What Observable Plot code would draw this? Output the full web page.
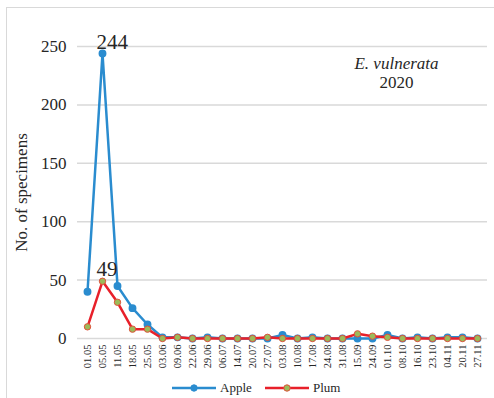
<!DOCTYPE html>
<html><head><meta charset="utf-8">
<script src="https://cdn.jsdelivr.net/npm/d3@7"></script>
<script src="https://cdn.jsdelivr.net/npm/@observablehq/plot@0.6"></script>
<style>
body{margin:0;background:#fff;font-family:"Liberation Serif",serif;}
svg, svg text{font-family:"Liberation Serif",serif !important;}
#wrap{position:relative;width:494px;height:398px;overflow:hidden}
#frame{position:absolute;left:6px;top:7px;width:600px;height:500px;border-left:1.5px solid #d9d9d9;border-top:1.5px solid #d9d9d9;pointer-events:none}
#legend{position:absolute;left:0;top:378px;width:494px;height:20px;font-size:13px;color:#262626;font-family:"Liberation Serif",serif}
.item{position:absolute;top:0;height:20px;display:flex;align-items:center}
.item span{margin-left:4px}
</style></head><body>
<div id="wrap"><div id="chart"></div><div id="frame"></div><div id="legend"></div></div>
<script>
const dates = ["01.05","05.05","11.05","18.05","25.05","03.06","09.06","22.06","29.06","06.07","14.07","20.07","27.07","03.08","10.08","17.08","24.08","31.08","15.09","24.09","01.10","08.10","16.10","23.10","04.11","20.11","27.11"];
const apple = [40,244,45,26,12,1,1,0,1,0,0,0,0,3,0,1,0,0,0,0,3,0,1,0,1,1,0];
const plum  = [10,49,31,8,8,0,1,0,0,0,0,0,1,0,0,0,0,0,4,2,1,0,0,0,0,0,0];
const yTicks = [0,50,100,150,200,250];
const seriesNames = ["Apple","Plum"];

const appleColor = "#2a8ccf";
const plumColor = "#e8202a";
const plumFill = "#9bbb59";
const ff = "Liberation Serif";

const appleData = dates.map((d,i)=>({date:d, value:apple[i]}));
const plumData = dates.map((d,i)=>({date:d, value:plum[i]}));
const labelData = [
  {date:dates[1], value:apple[1]},
  {date:dates[1], value:plum[1]}
];

const chart = Plot.plot({
  width: 494,
  height: 376,
  marginLeft: 77,
  marginRight: 7,
  marginTop: 46,
  marginBottom: 38,
  style: {fontFamily:"Liberation Serif", color:"#262626", background:"transparent"},
  x: {type:"point", domain: dates, padding:0.5},
  y: {domain:[0,250]},
  marks: [
    Plot.ruleY(yTicks, {stroke:"#d9d9d9", strokeWidth:1.5}),
    Plot.axisY({ticks: yTicks, tickSize:0, tickPadding:11, fontSize:17, fontFamily:ff, label:null}),
    Plot.axisX({tickRotate:-90, tickSize:0, tickPadding:6, fontSize:10.5, fontFamily:ff, label:null}),
    Plot.text(["No. of specimens"], {frameAnchor:"left", rotate:-90, dx:-56, fontSize:17, fontFamily:ff, textAnchor:"middle", lineAnchor:"middle", fill:"#262626"}),
    Plot.line(appleData, {x:"date", y:"value", stroke:appleColor, strokeWidth:2.5}),
    Plot.dot(appleData, {x:"date", y:"value", r:3.2, fill:appleColor, stroke:appleColor}),
    Plot.line(plumData, {x:"date", y:"value", stroke:plumColor, strokeWidth:2.5}),
    Plot.dot(plumData, {x:"date", y:"value", r:3.2, fill:plumFill, stroke:"#e0503a", strokeWidth:1}),
    Plot.text(labelData, {x:"date", y:"value", text:d=>String(d.value), textAnchor:"start", lineAnchor:"bottom", dx:-6, dy:-5, fontSize:21, fontFamily:ff, fill:"#262626"}),
    Plot.text(["E. vulnerata"], {frameAnchor:"top-right", dx:-91, dy:10, textAnchor:"middle", lineAnchor:"top", fontSize:17, fontFamily:ff, fontStyle:"italic", fill:"#262626"}),
    Plot.text(["2020"], {frameAnchor:"top-right", dx:-91, dy:29, textAnchor:"middle", lineAnchor:"top", fontSize:17, fontFamily:ff, fill:"#262626"})
  ]
});
document.getElementById("chart").appendChild(chart);

// legend
const legend = document.getElementById("legend");
const legendItems = [
  {name:seriesNames[0], stroke:appleColor, fill:appleColor, mstroke:appleColor, left:172},
  {name:seriesNames[1], stroke:plumColor, fill:plumFill, mstroke:"#e0503a", left:265}
];
for (const it of legendItems) {
  const div = document.createElement("div");
  div.className = "item";
  div.style.left = it.left + "px";
  div.innerHTML = `<svg width="44" height="20"><line x1="0" x2="44" y1="10" y2="10" stroke="${it.stroke}" stroke-width="2.5"/><circle cx="22" cy="10" r="3.2" fill="${it.fill}" stroke="${it.mstroke}" stroke-width="1"/></svg><span>${it.name}</span>`;
  legend.appendChild(div);
}
</script>
</body></html>
